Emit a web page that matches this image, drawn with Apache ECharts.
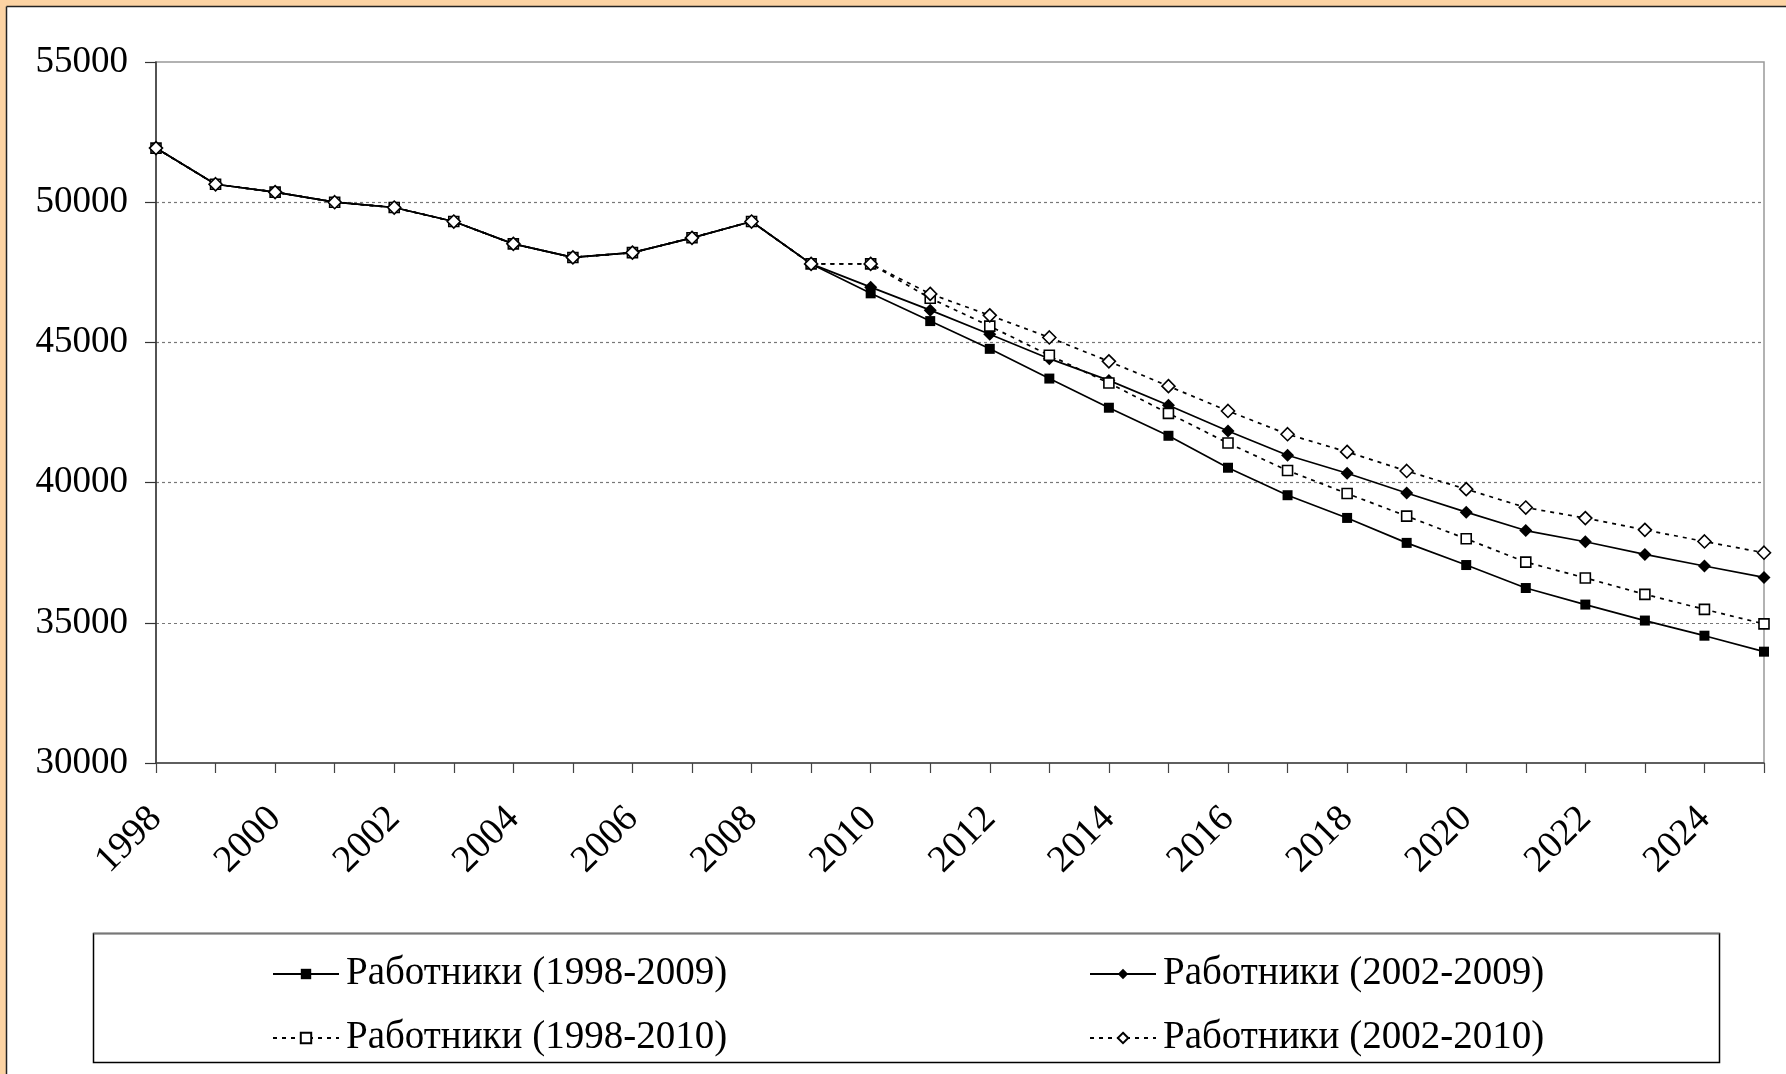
<!DOCTYPE html>
<html>
<head>
<meta charset="utf-8">
<script src="https://cdn.jsdelivr.net/npm/echarts@6/dist/echarts.min.js"></script>
<style>
  html, body { margin: 0; padding: 0; background: #fff; }
  #main { width: 1786px; height: 1074px; }
</style>
</head>
<body>
<div id="main"></div>
<script>
// годы
const years = ['1998', '1999', '2000', '2001', '2002', '2003', '2004', '2005', '2006', '2007',
  '2008', '2009', '2010', '2011', '2012', '2013', '2014', '2015', '2016', '2017',
  '2018', '2019', '2020', '2021', '2022', '2023', '2024', '2025'];

// Работники, прогноз по разным базовым периодам
const workers_1998_2009 = [51930, 50640, 50360, 50000, 49810, 49310, 48515, 48030, 48200, 48730,
  49310, 47800, 46750, 45760, 44770, 43710, 42670, 41670, 40530, 39550,
  38740, 37850, 37060, 36240, 35650, 35080, 34540, 33970];
const workers_2002_2009 = [51930, 50640, 50360, 50000, 49810, 49310, 48515, 48030, 48200, 48730,
  49310, 47800, 46970, 46150, 45290, 44420, 43645, 42760, 41840, 40975,
  40335, 39630, 38945, 38290, 37890, 37440, 37025, 36620];
const workers_1998_2010 = [51930, 50640, 50360, 50000, 49810, 49310, 48515, 48030, 48200, 48730,
  49310, 47800, 47800, 46575, 45580, 44540, 43550, 42470, 41410, 40430,
  39610, 38805, 37995, 37165, 36600, 36015, 35480, 34960];
const workers_2002_2010 = [51930, 50640, 50360, 50000, 49810, 49310, 48515, 48030, 48200, 48730,
  49310, 47800, 47800, 46730, 45965, 45175, 44325, 43440, 42555, 41725,
  41095, 40415, 39765, 39110, 38735, 38315, 37900, 37500];

const seriesNames = ['Работники (1998-2009)', 'Работники (2002-2009)',
  'Работники (1998-2010)', 'Работники (2002-2010)'];

const yTicks = { min: 30000, max: 55000, step: 5000 };

const FONT = '"Liberation Serif", "Times New Roman", serif';
const dashed = [4, 5];

const myChart = echarts.init(document.getElementById('main'));

function makeSeries(name, data, symbol, size, open, dash) {
  return {
    name: name,
    type: 'line',
    data: data,
    symbol: symbol,
    symbolSize: size,
    showSymbol: true,
    lineStyle: { color: '#000', width: 1.7, type: dash ? dashed : 'solid' },
    itemStyle: {
      color: open ? '#fff' : '#000',
      borderColor: '#000',
      borderWidth: open ? 1.6 : 0
    },
    emphasis: { disabled: true }
  };
}

function makeLegend(name, left, top) {
  return {
    data: [name],
    left: left,
    top: top,
    padding: 0,
    itemWidth: 66,
    itemHeight: 13,
    itemGap: 0,
    selectedMode: false,
    textStyle: { fontFamily: FONT, fontSize: 39, color: '#000', padding: [0, 0, 0, 2], lineHeight: 42 }
  };
}

const option = {
  animation: false,
  backgroundColor: '#fff',
  grid: {
    left: 156, right: 22, top: 62, bottom: 311,
    show: true, borderColor: '#999', borderWidth: 1.5, backgroundColor: 'transparent'
  },
  legend: [
    makeLegend(seriesNames[0], 272, 953),
    makeLegend(seriesNames[1], 1089, 953),
    makeLegend(seriesNames[2], 272, 1017),
    makeLegend(seriesNames[3], 1089, 1017)
  ],
  xAxis: {
    type: 'category',
    data: years,
    boundaryGap: false,
    axisLine: { lineStyle: { color: '#444', width: 1.5 } },
    axisTick: { show: true, interval: 0, length: 10, lineStyle: { color: '#444', width: 1.2 } },
    axisLabel: {
      interval: 1, rotate: 45, margin: 50,
      fontFamily: FONT, fontSize: 38, color: '#000'
    },
    splitLine: { show: false }
  },
  yAxis: {
    type: 'value',
    min: yTicks.min, max: yTicks.max, interval: yTicks.step,
    axisLine: { show: true, lineStyle: { color: '#333', width: 1.5 } },
    axisTick: { show: true, length: 11, lineStyle: { color: '#333', width: 1.2 } },
    axisLabel: {
      margin: 28, fontFamily: FONT, fontSize: 37, color: '#000',
      formatter: function (v) { return String(v); }
    },
    splitLine: {
      show: true, showMinLine: false, showMaxLine: false,
      lineStyle: { color: '#777', width: 1.2, type: [3, 3] }
    }
  },
  series: [
    makeSeries(seriesNames[0], workers_1998_2009, 'rect', 10, false, false),
    makeSeries(seriesNames[1], workers_2002_2009, 'diamond', 13, false, false),
    makeSeries(seriesNames[2], workers_1998_2010, 'rect', 10, true, true),
    makeSeries(seriesNames[3], workers_2002_2010, 'diamond', 13, true, true)
  ],
  graphic: [
    // рамка (обрезанная)
    { type: 'rect', shape: { x: 0, y: 0, width: 1786, height: 6 }, style: { fill: '#fcd3a3' }, silent: true },
    { type: 'rect', shape: { x: 0, y: 0, width: 6, height: 1074 }, style: { fill: '#fcd3a3' }, silent: true },
    { type: 'line', shape: { x1: 6.5, y1: 6.5, x2: 1786, y2: 6.5 }, style: { stroke: '#222', lineWidth: 1.5 }, silent: true },
    { type: 'line', shape: { x1: 6.5, y1: 6.5, x2: 6.5, y2: 1074 }, style: { stroke: '#222', lineWidth: 1.5 }, silent: true },
    // рамка легенды
    { type: 'rect', shape: { x: 93.5, y: 933.5, width: 1626, height: 129 }, style: { fill: 'none', stroke: '#000', lineWidth: 1.5 }, silent: true, z: -1 },
    { type: 'line', shape: { x1: 93.5, y1: 933.5, x2: 1719.5, y2: 933.5 }, style: { stroke: '#777', lineWidth: 1.5 }, silent: true }
  ]
};

myChart.setOption(option);
</script>
</body>
</html>
